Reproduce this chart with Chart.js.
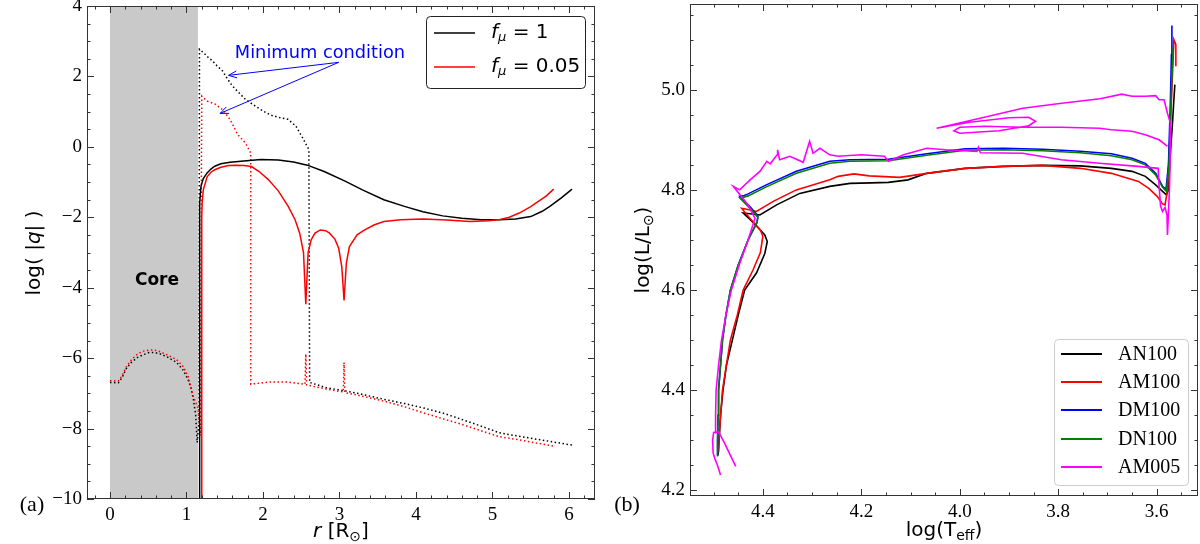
<!DOCTYPE html>
<html>
<head>
<meta charset="utf-8">
<script src="https://cdn.jsdelivr.net/npm/chart.js@4.4.0/dist/chart.umd.min.js"></script>
<style>
  html, body { margin: 0; padding: 0; background: #fff; }
  #wrap { position: relative; width: 1200px; height: 544px; overflow: hidden; background: #fff; }
  canvas { position: absolute; top: 0; }
</style>
</head>
<body>
<div id="wrap">
  <canvas id="chartA" width="600" height="544" style="left:0"></canvas>
  <canvas id="chartB" width="600" height="544" style="left:600px"></canvas>
</div>
<script>
// ---- panel (a): log|q| against r ----
var aTicksX = [0, 1, 2, 3, 4, 5, 6];
var aTicksY = [-10, -8, -6, -4, -2, 0, 2, 4];
var coreFrom = 0, coreTo = 1.15;

// f_mu = 1, solid
var fmu1SolidR = [1.17, 1.17, 1.175, 1.19, 1.22, 1.27, 1.32, 1.37, 1.45, 1.57, 1.75, 1.97, 2.2, 2.4, 2.58, 2.8, 3.08, 3.3, 3.58, 3.85, 4.09, 4.35, 4.6, 4.85, 5.09, 5.3, 5.5, 5.65, 5.75, 5.9, 6.04];
var fmu1SolidQ = [-10, -1.98, -1.6, -1.12, -0.9, -0.74, -0.63, -0.55, -0.48, -0.44, -0.4, -0.36, -0.37, -0.43, -0.52, -0.7, -0.98, -1.22, -1.5, -1.69, -1.84, -1.96, -2.03, -2.07, -2.07, -2.05, -1.98, -1.83, -1.69, -1.45, -1.2];
// f_mu = 1, dotted
var fmu1DotR = [0, 0.11, 0.16, 0.21, 0.28, 0.36, 0.44, 0.51, 0.58, 0.66, 0.76, 0.87, 0.95, 1.02, 1.06, 1.09, 1.12, 1.13, 1.14, 1.165, 1.17, 1.22, 1.28, 1.34, 1.4, 1.47, 1.53, 1.6, 1.68, 1.77, 1.87, 1.97, 2.05, 2.12, 2.22, 2.33, 2.43, 2.53, 2.6, 2.61, 2.83, 3.08, 3.3, 3.58, 3.85, 4.09, 4.35, 4.6, 4.85, 5.09, 5.35, 5.6, 5.85, 6.04];
var fmu1DotQ = [-6.69, -6.7, -6.55, -6.31, -6.12, -5.98, -5.9, -5.84, -5.84, -5.88, -5.98, -6.12, -6.32, -6.6, -6.85, -7.17, -7.6, -8.0, -8.4, -7.8, 2.77, 2.68, 2.55, 2.44, 2.3, 2.16, 1.95, 1.73, 1.55, 1.35, 1.2, 1.06, 0.96, 0.89, 0.83, 0.78, 0.59, 0.21, -0.08, -6.69, -6.84, -6.93, -7.03, -7.17, -7.29, -7.41, -7.56, -7.74, -7.93, -8.12, -8.22, -8.31, -8.4, -8.47];
// f_mu = 0.05, solid
var fmu005SolidR = [1.2, 1.2, 1.205, 1.22, 1.27, 1.32, 1.37, 1.45, 1.55, 1.65, 1.75, 1.85, 1.95, 2.07, 2.2, 2.33, 2.42, 2.48, 2.53, 2.56, 2.59, 2.63, 2.68, 2.75, 2.82, 2.87, 2.94, 2.99, 3.03, 3.06, 3.09, 3.13, 3.23, 3.33, 3.45, 3.58, 3.8, 4.09, 4.4, 4.7, 4.95, 5.1, 5.22, 5.35, 5.5, 5.6, 5.7, 5.8];
var fmu005SolidQ = [-10, -2.0, -1.6, -1.22, -0.85, -0.72, -0.65, -0.58, -0.53, -0.52, -0.53, -0.56, -0.7, -0.93, -1.25, -1.69, -2.07, -2.45, -3.0, -4.47, -3.0, -2.64, -2.45, -2.36, -2.38, -2.45, -2.62, -2.88, -3.4, -4.36, -3.3, -2.83, -2.5, -2.36, -2.22, -2.12, -2.07, -2.05, -2.08, -2.12, -2.1, -2.06, -2.0, -1.88, -1.7, -1.55, -1.4, -1.2];
// f_mu = 0.05, dotted
var fmu005DotR = [0, 0.11, 0.16, 0.21, 0.28, 0.36, 0.44, 0.51, 0.58, 0.66, 0.76, 0.87, 0.95, 1.02, 1.09, 1.15, 1.17, 1.18, 1.2, 1.27, 1.37, 1.47, 1.57, 1.67, 1.77, 1.84, 1.84, 2.07, 2.33, 2.55, 2.56, 2.57, 2.83, 3.05, 3.06, 3.07, 3.3, 3.58, 3.85, 4.09, 4.35, 4.6, 4.85, 5.09, 5.35, 5.6, 5.8];
var fmu005DotQ = [-6.64, -6.65, -6.5, -6.26, -6.05, -5.88, -5.8, -5.77, -5.77, -5.82, -5.92, -6.04, -6.22, -6.5, -7.1, -7.4, -7.9, -8.2, 1.44, 1.3, 1.22, 1.06, 0.78, 0.35, 0.11, -0.17, -6.74, -6.68, -6.68, -6.74, -5.88, -6.76, -6.88, -6.96, -6.12, -6.98, -7.08, -7.22, -7.38, -7.55, -7.72, -7.88, -8.06, -8.23, -8.32, -8.42, -8.5];

// ---- panel (b): HR diagram ----
var bTicksX = [4.4, 4.2, 4.0, 3.8, 3.6];
var bTicksY = [4.2, 4.4, 4.6, 4.8, 5.0];
var bNames = ['AN100', 'AM100', 'DM100', 'DN100', 'AM005'];
var bColors = ['#000000', '#ff0000', '#0000ff', '#008000', '#ff00ff'];

var an100T = [4.491, 4.489, 4.486, 4.481, 4.474, 4.462, 4.45, 4.437, 4.413, 4.396, 4.391, 4.396, 4.41, 4.425, 4.44, 4.43, 4.406, 4.372, 4.325, 4.264, 4.223, 4.18, 4.145, 4.105, 4.067, 3.989, 3.911, 3.832, 3.755, 3.692, 3.65, 3.623, 3.602, 3.588, 3.58, 3.576, 3.573, 3.568, 3.565, 3.563];
var an100L = [4.27, 4.30, 4.35, 4.40, 4.45, 4.50, 4.55, 4.60, 4.634, 4.673, 4.697, 4.71, 4.725, 4.74, 4.754, 4.753, 4.75, 4.77, 4.793, 4.807, 4.813, 4.814, 4.815, 4.82, 4.833, 4.843, 4.847, 4.849, 4.848, 4.843, 4.837, 4.827, 4.81, 4.797, 4.79, 4.80, 4.86, 4.93, 4.98, 5.01];
var am100T = [4.49, 4.488, 4.485, 4.482, 4.474, 4.466, 4.452, 4.44, 4.42, 4.405, 4.40, 4.405, 4.425, 4.443, 4.435, 4.413, 4.379, 4.332, 4.264, 4.247, 4.215, 4.184, 4.122, 4.067, 3.989, 3.911, 3.832, 3.755, 3.692, 3.637, 3.616, 3.599, 3.588, 3.583, 3.578, 3.572, 3.567, 3.565, 3.561, 3.561];
var am100L = [4.277, 4.32, 4.36, 4.40, 4.45, 4.50, 4.55, 4.60, 4.64, 4.675, 4.707, 4.72, 4.742, 4.763, 4.762, 4.757, 4.777, 4.80, 4.82, 4.827, 4.832, 4.828, 4.825, 4.833, 4.843, 4.847, 4.849, 4.843, 4.833, 4.817, 4.803, 4.787, 4.772, 4.77, 4.80, 4.93, 5.05, 5.10, 5.09, 5.047];
var dm100T = [4.492, 4.492, 4.491, 4.49, 4.486, 4.482, 4.475, 4.466, 4.45, 4.43, 4.412, 4.41, 4.425, 4.447, 4.44, 4.43, 4.393, 4.332, 4.264, 4.223, 4.145, 4.067, 3.989, 3.911, 3.832, 3.755, 3.692, 3.65, 3.623, 3.602, 3.588, 3.581, 3.576, 3.572, 3.57, 3.569];
var dm100L = [4.27, 4.30, 4.35, 4.40, 4.45, 4.50, 4.55, 4.60, 4.65, 4.70, 4.735, 4.748, 4.765, 4.787, 4.788, 4.792, 4.81, 4.837, 4.857, 4.86, 4.861, 4.872, 4.882, 4.883, 4.881, 4.877, 4.872, 4.863, 4.853, 4.833, 4.807, 4.801, 4.85, 4.98, 5.07, 5.128];
var dn100T = [4.492, 4.492, 4.491, 4.49, 4.486, 4.482, 4.475, 4.466, 4.45, 4.43, 4.412, 4.41, 4.425, 4.447, 4.44, 4.43, 4.393, 4.332, 4.264, 4.223, 4.145, 4.067, 3.989, 3.911, 3.832, 3.755, 3.692, 3.65, 3.623, 3.602, 3.588, 3.58, 3.575, 3.571, 3.568, 3.566];
var dn100L = [4.268, 4.30, 4.35, 4.40, 4.45, 4.50, 4.55, 4.60, 4.65, 4.70, 4.735, 4.745, 4.762, 4.784, 4.785, 4.788, 4.806, 4.833, 4.853, 4.857, 4.858, 4.869, 4.879, 4.88, 4.878, 4.874, 4.868, 4.86, 4.85, 4.83, 4.805, 4.797, 4.85, 4.97, 5.05, 5.087];
// AM005: small ZAMS loop, then the main track
var am005aT = [4.486, 4.492, 4.497, 4.501, 4.502, 4.5, 4.49, 4.478, 4.466, 4.455];
var am005aL = [4.231, 4.25, 4.262, 4.275, 4.30, 4.316, 4.317, 4.295, 4.27, 4.248];
var am005T = [4.497, 4.496, 4.495, 4.49, 4.484, 4.475, 4.464, 4.448, 4.43, 4.416, 4.43, 4.46, 4.447, 4.426, 4.406, 4.392, 4.385, 4.371, 4.37, 4.366, 4.345, 4.318, 4.308, 4.305, 4.298, 4.284, 4.264, 4.247, 4.2, 4.153, 4.145, 4.114, 4.067, 4.028, 3.965, 3.962, 3.958, 3.872, 3.794, 3.716, 3.638, 3.597, 3.595, 3.592, 3.588, 3.583, 3.579, 3.578, 3.574, 3.572, 3.572, 3.578, 3.585, 3.595, 3.602, 3.623, 3.65, 3.671, 3.715, 3.793, 3.872, 3.95, 4.047, 3.98, 3.90, 3.86, 3.846, 3.86, 3.92, 4.0, 4.012, 4.0, 3.95, 3.872, 3.794, 3.716, 3.692, 3.65, 3.623, 3.595, 3.578];
var am005L = [4.315, 4.35, 4.40, 4.45, 4.50, 4.55, 4.60, 4.65, 4.70, 4.743, 4.77, 4.807, 4.80, 4.82, 4.837, 4.857, 4.852, 4.87, 4.88, 4.86, 4.867, 4.855, 4.887, 4.897, 4.873, 4.883, 4.87, 4.867, 4.87, 4.867, 4.857, 4.87, 4.883, 4.88, 4.877, 4.885, 4.874, 4.873, 4.86, 4.853, 4.847, 4.843, 4.807, 4.767, 4.757, 4.765, 4.75, 4.71, 4.80, 4.88, 4.933, 4.953, 4.98, 4.98, 4.988, 4.987, 4.987, 4.991, 4.982, 4.973, 4.963, 4.945, 4.923, 4.935, 4.944, 4.945, 4.937, 4.928, 4.918, 4.913, 4.918, 4.925, 4.927, 4.925, 4.925, 4.923, 4.92, 4.917, 4.91, 4.90, 4.887];

var SANS = '"DejaVu Sans"';
var SERIF = '"Liberation Serif"';

function pts(xs, ys) {
	return xs.map(function (v, i) { return {x: v, y: ys[i]}; });
}

function line(data, color, width, dash, order) {
	return {
		data: data, borderColor: color, backgroundColor: color, borderWidth: width,
		borderDash: dash || [], showLine: true, pointRadius: 0, pointHoverRadius: 0,
		tension: 0, fill: false, order: order || 0
	};
}

// text made of pieces: [text, font, dy]
function rich(ctx, parts, x, y, align) {
	var w = 0;
	parts.forEach(function (p) { ctx.font = p[1]; w += ctx.measureText(p[0]).width; });
	var cx = align == 'center' ? x - w / 2 : x;
	ctx.textAlign = 'left';
	ctx.textBaseline = 'middle';
	parts.forEach(function (p) {
		ctx.font = p[1];
		ctx.fillText(p[0], cx, y + (p[2] || 0));
		cx += ctx.measureText(p[0]).width;
	});
}

// box, inward ticks on all four sides
function frame(chart, majX, stepX, majY, stepY) {
	var ctx = chart.ctx, a = chart.chartArea, x = chart.scales.x, y = chart.scales.y;
	ctx.save();
	ctx.strokeStyle = '#333';
	ctx.lineWidth = 1;
	ctx.beginPath();
	var k, v, p, len;
	for (k = Math.ceil(x.min / stepX - 1e-6); k * stepX <= x.max + 1e-6; k++) {
		v = k * stepX;
		len = majX.some(function (m) { return Math.abs(m - v) < 1e-6; }) ? 7 : 3.5;
		p = Math.round(x.getPixelForValue(v)) + 0.5;
		ctx.moveTo(p, a.bottom); ctx.lineTo(p, a.bottom - len);
		ctx.moveTo(p, a.top); ctx.lineTo(p, a.top + len);
	}
	for (k = Math.ceil(y.min / stepY - 1e-6); k * stepY <= y.max + 1e-6; k++) {
		v = k * stepY;
		len = majY.some(function (m) { return Math.abs(m - v) < 1e-6; }) ? 7 : 3.5;
		p = Math.round(y.getPixelForValue(v)) + 0.5;
		ctx.moveTo(a.left, p); ctx.lineTo(a.left + len, p);
		ctx.moveTo(a.right, p); ctx.lineTo(a.right - len, p);
	}
	ctx.stroke();
	ctx.strokeRect(Math.round(a.left) + 0.5, Math.round(a.top) + 0.5,
		Math.round(a.right - a.left) - 1, Math.round(a.bottom - a.top) - 1);
	ctx.restore();
}

function arrow(ctx, x1, y1, x2, y2) {
	var ang = Math.atan2(y2 - y1, x2 - x1), h = 9, s = 0.4;
	ctx.beginPath();
	ctx.moveTo(x1, y1); ctx.lineTo(x2, y2);
	ctx.moveTo(x2 - h * Math.cos(ang - s), y2 - h * Math.sin(ang - s));
	ctx.lineTo(x2, y2);
	ctx.lineTo(x2 - h * Math.cos(ang + s), y2 - h * Math.sin(ang + s));
	ctx.stroke();
}

function fixedScale(ticks, fmt, size) {
	return {
		type: 'linear',
		grid: {display: false, drawTicks: false},
		border: {display: false},
		ticks: {
			autoSkip: false, maxRotation: 0, color: '#000', padding: 5,
			font: {family: SERIF, size: 19},
			callback: fmt
		},
		afterBuildTicks: function (s) { s.ticks = ticks.map(function (v) { return {value: v}; }); },
		afterFit: function (s) {
			if (s.isHorizontal()) s.height = size; else s.width = size;
			// labels at the ends may hang over: do not let them shrink the plot
			s.paddingTop = 0; s.paddingBottom = 0; s.paddingLeft = 0; s.paddingRight = 0;
		}
	};
}

var minusFmt = function (v) { return (v < 0 ? '\u2212' : '') + Math.abs(v); };
var oneFmt = function (v) { return Number(v).toFixed(1); };

// annotation anchors of panel (a), in data units
var noteText = {x: 2.745, y: 2.66};
var noteTail = {x: 2.99, y: 2.4};
var noteHeads = [{x: 1.55, y: 2.03}, {x: 1.44, y: 0.95}];

var decorA = {
	id: 'decorA',
	beforeDatasetsDraw: function (chart) {
		var ctx = chart.ctx, a = chart.chartArea, x = chart.scales.x;
		var x0 = x.getPixelForValue(coreFrom), x1 = x.getPixelForValue(coreTo);
		ctx.save();
		ctx.fillStyle = '#c9c9c9';
		ctx.fillRect(x0, a.top, x1 - x0, a.bottom - a.top);
		ctx.restore();
	},
	afterDraw: function (chart) {
		var ctx = chart.ctx, x = chart.scales.x, y = chart.scales.y;
		frame(chart, aTicksX, 0.2, aTicksY, 0.5);
		ctx.save();
		ctx.fillStyle = '#000';
		ctx.font = 'bold 17px ' + SANS;
		ctx.textAlign = 'center';
		ctx.textBaseline = 'middle';
		ctx.fillText('Core', 157, 281);

		// minimum condition note
		ctx.fillStyle = '#0000ff';
		ctx.strokeStyle = '#0000ff';
		ctx.lineWidth = 1;
		ctx.font = '17.8px ' + SANS;
		ctx.fillText('Minimum condition', x.getPixelForValue(noteText.x), y.getPixelForValue(noteText.y));
		noteHeads.forEach(function (h) {
			arrow(ctx, x.getPixelForValue(noteTail.x), y.getPixelForValue(noteTail.y),
				x.getPixelForValue(h.x), y.getPixelForValue(h.y));
		});

		// legend
		ctx.fillStyle = '#fff';
		ctx.strokeStyle = '#222';
		ctx.beginPath();
		ctx.roundRect(426.5, 16.5, 159, 72, 4);
		ctx.fill();
		ctx.stroke();
		[['1', '#000000', 33], ['0.05', '#ff0000', 67]].forEach(function (e) {
			ctx.strokeStyle = e[1];
			ctx.lineWidth = 1.6;
			ctx.beginPath(); ctx.moveTo(434, e[2]); ctx.lineTo(475, e[2]); ctx.stroke();
			ctx.fillStyle = '#000';
			rich(ctx, [['f', 'italic 20px ' + SANS], ['\u03bc', 'italic 13px ' + SANS, 5],
				[' = ' + e[0], '20px ' + SANS]], 491, e[2], 'left');
		});

		// axis titles and panel tag
		ctx.fillStyle = '#000';
		rich(ctx, [['r', 'italic 20px ' + SANS], [' [R', '20px ' + SANS],
			['\u2299', '14px ' + SANS, 5], [']', '20px ' + SANS]], 341, 532, 'center');
		ctx.save();
		ctx.translate(35, 253);
		ctx.rotate(-Math.PI / 2);
		rich(ctx, [['log( |', '20px ' + SANS], ['q', 'italic 20px ' + SANS], ['| )', '20px ' + SANS]], 0, 0, 'center');
		ctx.restore();
		ctx.font = '22px ' + SERIF;
		ctx.textAlign = 'center';
		ctx.textBaseline = 'middle';
		ctx.fillText('(a)', 32, 505);
		ctx.restore();
	}
};

var decorB = {
	id: 'decorB',
	afterDraw: function (chart) {
		var ctx = chart.ctx;
		frame(chart, bTicksX, 0.05, bTicksY, 0.05);
		ctx.save();
		// legend
		ctx.fillStyle = 'rgba(255,255,255,0.85)';
		ctx.strokeStyle = '#cccccc';
		ctx.lineWidth = 1;
		ctx.beginPath();
		ctx.roundRect(454.5, 339.5, 134, 146, 4);
		ctx.fill();
		ctx.stroke();
		var rows = [354, 382, 410, 439, 467];
		bNames.forEach(function (n, i) {
			ctx.strokeStyle = bColors[i];
			ctx.lineWidth = 1.8;
			ctx.beginPath(); ctx.moveTo(461, rows[i]); ctx.lineTo(502, rows[i]); ctx.stroke();
			ctx.fillStyle = '#000';
			ctx.font = '20px ' + SERIF;
			ctx.textAlign = 'left';
			ctx.textBaseline = 'middle';
			ctx.fillText(n, 518, rows[i] + 1);
		});
		// axis titles and panel tag
		ctx.fillStyle = '#000';
		rich(ctx, [['log(T', '20px ' + SANS], ['eff', '14px ' + SANS, 5], [')', '20px ' + SANS]], 344, 531, 'center');
		ctx.save();
		ctx.translate(44, 250);
		ctx.rotate(-Math.PI / 2);
		rich(ctx, [['log(L/L', '20px ' + SANS], ['\u2299', '14px ' + SANS, 5], [')', '20px ' + SANS]], 0, 0, 'center');
		ctx.restore();
		ctx.font = '22px ' + SERIF;
		ctx.textAlign = 'center';
		ctx.textBaseline = 'middle';
		ctx.fillText('(b)', 27, 505);
		ctx.restore();
	}
};

var scaleAX = fixedScale(aTicksX, minusFmt, 45);
scaleAX.min = -0.3; scaleAX.max = 6.34;
var scaleAY = fixedScale(aTicksY, minusFmt, 87);
scaleAY.min = -10; scaleAY.max = 4;

new Chart(document.getElementById('chartA'), {
	type: 'scatter',
	data: {
		datasets: [
			line(pts(fmu1DotR, fmu1DotQ), '#000000', 1.5, [1.5, 2.5], 4),
			line(pts(fmu005DotR, fmu005DotQ), '#ff0000', 1.5, [1.5, 2.5], 3),
			line(pts(fmu1SolidR, fmu1SolidQ), '#000000', 1.5, null, 2),
			line(pts(fmu005SolidR, fmu005SolidQ), '#ff0000', 1.5, null, 1)
		]
	},
	options: {
		responsive: false, animation: false,
		layout: {padding: {top: 6, right: 5, left: 0, bottom: 0}},
		plugins: {legend: {display: false}, tooltip: {enabled: false}},
		scales: {x: scaleAX, y: scaleAY}
	},
	plugins: [decorA]
});

var scaleBX = fixedScale(bTicksX, oneFmt, 48);
scaleBX.min = 3.516; scaleBX.max = 4.548; scaleBX.reverse = true;
var scaleBY = fixedScale(bTicksY, oneFmt, 90);
scaleBY.min = 4.189; scaleBY.max = 5.171;

new Chart(document.getElementById('chartB'), {
	type: 'scatter',
	data: {
		datasets: [
			line(pts(an100T, an100L), bColors[0], 1.6, null, 5),
			line(pts(am100T, am100L), bColors[1], 1.6, null, 4),
			line(pts(dm100T, dm100L), bColors[2], 1.6, null, 3),
			line(pts(dn100T, dn100L), bColors[3], 1.6, null, 2),
			line(pts(am005aT, am005aL), bColors[4], 1.6, null, 1),
			line(pts(am005T, am005L), bColors[4], 1.6, null, 1)
		]
	},
	options: {
		responsive: false, animation: false,
		layout: {padding: {top: 4, right: 2, left: 0, bottom: 0}},
		plugins: {legend: {display: false}, tooltip: {enabled: false}},
		scales: {x: scaleBX, y: scaleBY}
	},
	plugins: [decorB]
});
</script>
</body>
</html>
